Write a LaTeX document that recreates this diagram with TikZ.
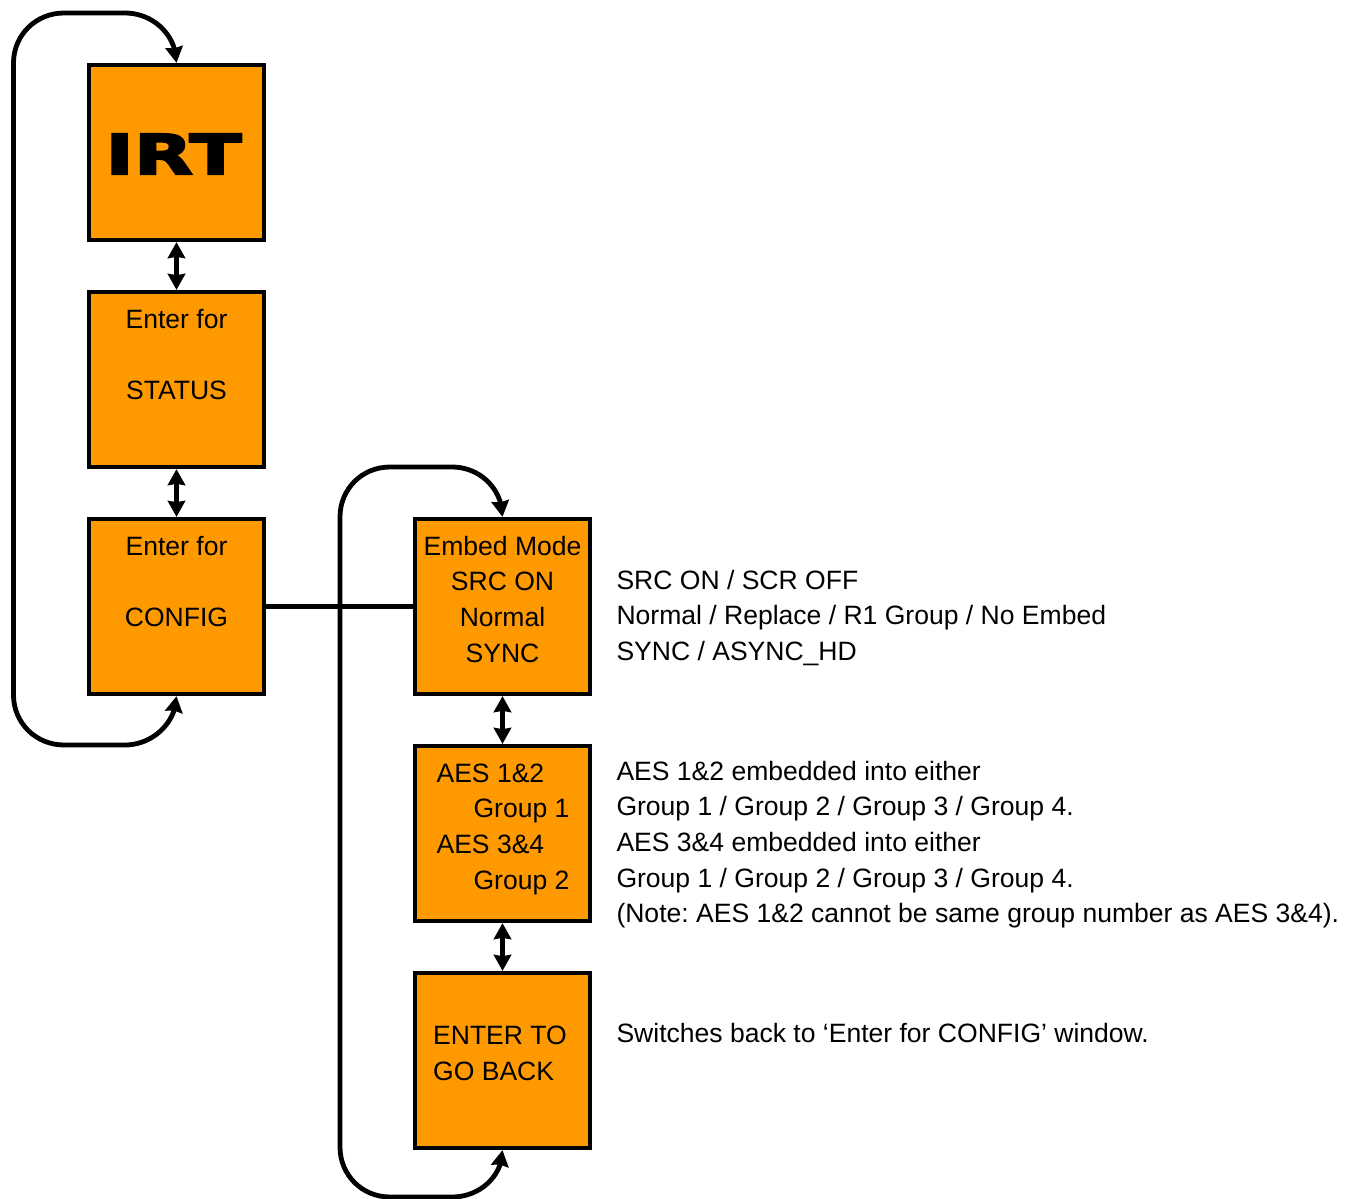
\documentclass[tikz,border=0pt]{standalone}
\usepackage{fontspec}
\setmainfont{Liberation Sans}
\newfontfamily\logofont[FakeBold=4,FakeStretch=1.4]{DejaVu Sans Bold}
\usetikzlibrary{arrows.meta,bending}
\definecolor{boxorange}{HTML}{FF9900}
\newlength\uu \setlength\uu{0.75pt}
\newcommand\boxlines[4]{\makebox[0pt][c]{\hspace*{#1\uu}\raisebox{#2\uu}[0pt][0pt]{\renewcommand\arraystretch{1}\begin{tabular}[c]{@{}#3@{}}#4\end{tabular}}}}
\tikzset{
  ubox/.style={draw=black,fill=boxorange,line width=3.2pt,minimum size=131.25pt,inner sep=0pt,shape=rectangle},
  body/.style={font=\frenchspacing\fontsize{19.9pt}{26.75pt}\selectfont},
  note/.style={body,inner sep=0pt,outer sep=0pt,anchor=north west,align=left},
  link/.style={line width=3.6pt,draw=black},
  twoway/.style={link,{Stealth[length=12pt,width=13pt,inset=1pt,flex]}-{Stealth[length=12pt,width=13pt,inset=1pt,flex]}}
}
\begin{document}
\begin{tikzpicture}[x=0.75pt,y=-0.75pt]
\useasboundingbox (0,0) rectangle (1357,1199);
\fill[white] (0,0) rectangle (1357,1199);
\node[ubox] (irt) at (176.5,152.5) {};
\node[font=\logofont\fontsize{41pt}{41pt}\selectfont,inner sep=0pt] (logo) at (173.5,154) {IRT};
\node[ubox,body] (status) at (176.5,379.5) {\boxlines{0}{16}{c}{Enter for\\ \\STATUS}};
\node[ubox,body] (config) at (176.5,606.5) {\boxlines{0}{16}{c}{Enter for\\ \\CONFIG}};
\node[ubox,body] (embed) at (502.5,606.5) {\boxlines{0}{-2}{c}{Embed Mode\\SRC ON\\Normal\\SYNC}};
\node[ubox,body] (aes) at (502.5,833.5) {\boxlines{1}{-2}{l}{AES 1\&2\\\hspace*{37\uu}Group 1\\AES 3\&4\\\hspace*{37\uu}Group 2}};
\node[ubox,body] (back) at (502.5,1060.5) {\boxlines{-5}{-2}{l}{ENTER TO\\GO BACK}};

\node[note] (n1) at (616.5,570) {SRC ON / SCR OFF\\Normal / Replace / R1 Group / No Embed\\SYNC / ASYNC\_HD};
\node[note] (n2) at (616.5,761) {AES 1\&2 embedded into either\\Group 1 / Group 2 / Group 3 / Group 4.\\AES 3\&4 embedded into either\\Group 1 / Group 2 / Group 3 / Group 4.\\(Note: AES 1\&2 cannot be same group number as AES 3\&4).};
\node[note] (n3) at (616.5,1023) {Switches back to ‘Enter for CONFIG’ window.};

\draw[twoway] (irt.south) -- (status.north);
\draw[twoway] (status.south) -- (config.north);
\draw[twoway] (embed.south) -- (aes.north);
\draw[twoway] (aes.south) -- (back.north);
\draw[link] (config.east) -- (embed.west);
\draw[twoway] (config.south) .. controls (176.5,722) and (153,745) .. (125,745) -- (64,745) .. controls (36,745) and (13.5,723) .. (13.5,695) -- (13.5,63) .. controls (13.5,35) and (36,13) .. (64,13) -- (125,13) .. controls (153,13) and (176.5,35) .. (irt.north);
\draw[twoway] (back.south) .. controls (502.5,1176) and (480,1197) .. (452,1197) -- (390,1197) .. controls (362,1197) and (340,1175) .. (340,1147) -- (340,517) .. controls (340,489) and (362,467) .. (390,467) -- (452,467) .. controls (480,467) and (502.5,489) .. (embed.north);
\end{tikzpicture}
\end{document}
